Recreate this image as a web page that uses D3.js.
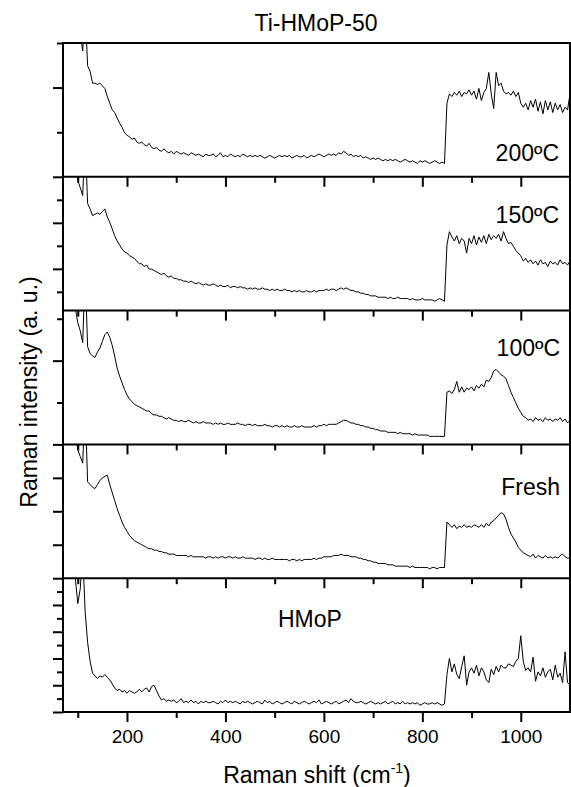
<!DOCTYPE html>
<html>
<head>
<meta charset="utf-8">
<script src="https://cdn.jsdelivr.net/npm/d3@7"></script>
<style>
  body { margin: 0; background: #fff; }
  svg { display: block; font-family: "Liberation Sans", Arial, sans-serif; }
</style>
</head>
<body>
<div id="chart"></div>
<script>
// Raman shift sampling grid (cm-1), one point every 5 cm-1
var shift = d3.range(70, 1101, 5);

// intensities, in % of panel height (0 = panel bottom)
var int200 = [
  140,140,140,140,140,140,135,108,94,125,
  83,79,70,70,69,70,68,66,60,55,
  50,48,44,40,37,33,31,30,28,29,
  26,25,26,24,23,25,22,21,22,20,
  19,21,19,18,19,17,19,18,17,18,
  17,16,18,17,16,17,16,15,17,16,
  16,17,15,16,18,15,16,15,17,16,
  15,16,15,17,16,15,16,15,16,15,
  16,15,14,15,16,15,14,15,16,15,
  16,15,16,14,15,16,15,15,16,14,
  15,16,15,16,17,16,15,16,17,16,
  17,16,18,17,19,18,16,17,15,16,
  15,16,14,15,14,13,14,13,14,13,
  12,13,12,13,12,13,12,11,12,13,
  12,11,12,11,10,12,11,12,11,10,
  11,12,11,10,11,10,55,62,60,63,
  61,64,60,63,62,65,61,64,58,66,
  57,63,66,78,62,51,78,68,70,64,
  62,63,61,64,60,63,55,52,55,50,
  57,52,58,49,56,47,57,50,56,48,
  55,50,54,48,52,50,62
];
var int150 = [
  140,140,140,140,140,110,97,92,86,130,
  80,76,71,72,73,72,74,76,70,66,
  61,56,52,49,46,44,43,41,40,39,
  37,35,35,33,34,31,31,30,29,28,
  27,28,26,25,26,24,24,23,23,22,
  22,21,22,21,20,21,20,19,20,19,
  19,20,19,18,19,18,18,19,17,18,
  18,17,18,17,17,16,17,16,17,16,
  16,17,16,16,15,16,15,16,15,15,
  16,15,15,14,15,14,15,14,14,15,
  14,14,15,14,15,15,15,16,15,16,
  16,15,16,17,16,17,16,15,15,14,
  14,13,13,12,12,11,11,11,10,10,
  10,10,9,10,9,9,10,9,9,9,
  9,8,9,8,8,8,9,8,8,8,
  8,7,8,9,8,7,49,59,55,52,
  56,50,54,52,43,54,50,56,49,55,
  51,56,50,57,53,56,54,57,52,59,
  54,50,51,48,45,43,41,37,39,36,
  38,35,37,34,38,35,36,33,37,35,
  36,34,38,35,36,34,37
];
var int100 = [
  140,140,140,140,140,102,91,85,76,130,
  73,68,66,65,69,72,77,82,84,80,
  74,66,57,51,46,41,37,34,32,30,
  29,28,27,26,25,25,23,22,22,21,
  21,20,19,20,19,18,18,17,18,17,
  17,18,17,16,17,16,16,17,16,16,
  16,15,16,15,16,15,15,16,15,15,
  15,16,15,15,14,15,15,14,15,14,
  14,14,15,14,14,13,14,14,13,14,
  13,14,13,13,14,13,13,14,13,13,
  13,13,14,13,14,14,15,14,15,15,
  15,15,16,17,18,18,17,16,16,15,
  15,14,14,13,13,12,12,11,11,10,
  10,10,9,9,9,9,8,9,8,8,
  8,8,7,8,7,7,7,7,7,6,
  6,6,6,6,6,6,39,40,38,41,
  47,39,43,39,42,41,43,40,44,42,
  45,43,48,47,50,55,56,54,52,51,
  49,44,39,35,31,27,24,21,20,18,
  19,17,20,18,19,17,20,18,19,17,
  19,18,20,17,19,16,18
];
var intFresh = [
  140,140,140,140,140,110,96,91,86,130,
  72,70,68,67,70,73,75,76,77,70,
  64,58,52,47,42,38,35,32,30,28,
  27,26,25,24,23,22,22,21,21,20,
  20,19,19,18,18,18,17,17,17,17,
  17,16,17,16,16,16,16,16,15,16,
  16,15,16,15,16,16,15,16,16,15,
  16,15,15,16,15,15,15,15,14,15,
  15,14,15,14,14,15,14,14,14,14,
  14,14,13,14,14,13,14,13,14,14,
  14,14,15,14,15,15,16,16,16,16,
  17,17,17,18,17,17,17,16,16,16,
  15,15,14,14,13,13,12,12,11,11,
  11,11,10,10,10,9,9,9,9,9,
  9,8,9,8,8,8,8,8,8,7,
  8,8,7,8,8,8,42,40,38,40,
  37,39,38,40,38,39,38,40,39,38,
  40,38,41,39,42,43,45,47,49,48,
  44,38,33,30,27,23,21,19,18,17,
  16,18,15,17,16,15,17,15,16,15,
  16,15,17,18,16,15,15
];
var intHMoP = [
  140,140,140,140,140,100,81,92,120,75,
  52,38,29,27,25,27,26,28,26,24,
  21,18,16,17,15,16,14,16,15,14,
  15,17,15,17,18,15,19,20,16,12,
  9,10,8,9,8,9,7,8,10,7,
  8,7,9,7,8,6,8,7,8,7,
  7,8,7,6,8,7,9,7,8,7,
  8,7,6,8,7,8,7,6,7,8,
  7,6,9,7,8,6,7,8,7,6,
  7,8,7,6,8,7,6,7,8,7,
  6,7,8,7,9,6,7,8,7,6,
  7,8,6,7,8,9,7,10,8,7,
  7,8,7,6,7,8,7,6,7,6,
  7,8,6,7,8,6,7,6,8,6,
  7,6,7,6,7,5,6,7,6,6,
  7,6,7,6,5,6,28,40,30,36,
  28,25,34,42,20,30,33,29,35,27,
  33,30,24,22,32,28,34,30,35,33,
  33,36,35,34,38,40,57,38,31,33,
  30,41,23,30,27,33,26,30,32,24,
  35,26,29,22,45,22,20
];

var sampleNames = ["200ºC", "150ºC", "100ºC", "Fresh", "HMoP"];
var series = [int200, int150, int100, intFresh, intHMoP];

// left-axis ticks of each panel (same % units), major ones get the long mark
var yMajor = [[0, 66.7], [31.2, 65.6], [0, 62.6], [0, 25, 50, 75], [0, 20, 40, 60, 80]];
var yMinor = [[33.3, 100], [14, 48.4, 82.8], [31.3, 93.9], [], [10, 30, 50, 70, 90]];

var xMajor = [200, 400, 600, 800, 1000];
var xMinor = [100, 300, 500, 700, 900];

// where the sample names sit inside their panel
var labelPos = [
  {x: 559, dy: 118, anchor: "end"},
  {x: 559, dy: 46, anchor: "end"},
  {x: 560, dy: 45, anchor: "end"},
  {x: 560, dy: 51, anchor: "end"},
  {x: 278, dy: 49, anchor: "start"}
];

var width = 571, height = 787;
var plotLeft = 63, plotRight = 570, plotTop = 43, plotBottom = 712;
var panelH = (plotBottom - plotTop) / series.length;

var svg = d3.select("#chart").append("svg")
    .attr("width", width)
    .attr("height", height);

var x = d3.scaleLinear().domain([70, 1100]).range([plotLeft, plotRight]);

series.forEach(function(values, i) {
  var y0 = plotTop + i * panelH;
  var y = d3.scaleLinear().domain([0, 100]).range([y0 + panelH, y0]);

  svg.append("clipPath")
      .attr("id", "clip" + i)
    .append("rect")
      .attr("x", plotLeft)
      .attr("y", y0)
      .attr("width", plotRight - plotLeft)
      .attr("height", panelH);

  var line = d3.line()
      .x(function(d) { return x(d[0]); })
      .y(function(d) { return y(d[1]); });

  svg.append("path")
      .datum(values.map(function(v, k) { return [shift[k], v]; }))
      .attr("clip-path", "url(#clip" + i + ")")
      .attr("fill", "none")
      .attr("stroke", "#000")
      .attr("stroke-width", 1)
      .attr("stroke-linejoin", "round")
      .attr("d", line);

  // left axis ticks, pointing outwards
  [[yMajor[i], 10], [yMinor[i], 6]].forEach(function(t) {
    svg.append("g")
        .attr("class", "tick-y")
        .attr("transform", "translate(" + plotLeft + ",0)")
        .call(d3.axisLeft(y).tickValues(t[0]).tickSize(t[1]).tickFormat(""));
  });

  // bottom axis of each panel, ticks pointing down
  var isLast = i === series.length - 1;
  svg.append("g")
      .attr("class", "tick-x")
      .attr("transform", "translate(0," + (y0 + panelH) + ")")
      .call(d3.axisBottom(x).tickValues(xMajor).tickSize(10).tickPadding(8)
        .tickFormat(isLast ? d3.format("d") : ""));
  svg.append("g")
      .attr("class", "tick-x")
      .attr("transform", "translate(0," + (y0 + panelH) + ")")
      .call(d3.axisBottom(x).tickValues(xMinor).tickSize(6).tickFormat(""));

  svg.append("text")
      .attr("x", labelPos[i].x)
      .attr("y", y0 + labelPos[i].dy)
      .attr("text-anchor", labelPos[i].anchor)
      .attr("font-size", 23)
      .text(sampleNames[i]);

  if (i > 0) {
    svg.append("line")
        .attr("x1", plotLeft).attr("x2", plotRight)
        .attr("y1", y0).attr("y2", y0)
        .attr("stroke", "#000")
        .attr("stroke-width", 2);
  }
});

svg.selectAll(".tick-y .domain, .tick-x .domain").remove();
svg.selectAll(".tick-y line, .tick-x line")
    .attr("stroke", "#000")
    .attr("stroke-width", 2);
svg.selectAll(".tick-x text")
    .attr("font-size", 19)
    .attr("fill", "#000");
svg.selectAll(".tick-x, .tick-y").attr("font-family", null);

svg.append("rect")
    .attr("x", plotLeft)
    .attr("y", plotTop)
    .attr("width", plotRight - plotLeft)
    .attr("height", plotBottom - plotTop)
    .attr("fill", "none")
    .attr("stroke", "#000")
    .attr("stroke-width", 2);

svg.append("text")
    .attr("x", 316)
    .attr("y", 31)
    .attr("text-anchor", "middle")
    .attr("font-size", 23)
    .text("Ti-HMoP-50");

var xt = svg.append("text")
    .attr("x", 317)
    .attr("y", 783)
    .attr("text-anchor", "middle")
    .attr("font-size", 23);
xt.append("tspan").text("Raman shift (cm");
xt.append("tspan").attr("font-size", 14).attr("dy", -10).text("-1");
xt.append("tspan").attr("dy", 10).text(")");

svg.append("text")
    .attr("transform", "translate(37,392) rotate(-90)")
    .attr("text-anchor", "middle")
    .attr("font-size", 23)
    .text("Raman intensity (a. u.)");
</script>
</body>
</html>
